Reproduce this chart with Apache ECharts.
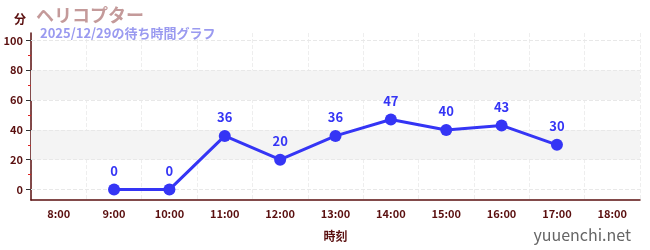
<!DOCTYPE html>
<html><head><meta charset="utf-8">
<script src="https://cdn.jsdelivr.net/npm/echarts@6/dist/echarts.min.js"></script>
<style>html,body{margin:0;padding:0;background:#fff}#c{width:650px;height:250px}</style>
</head><body><div id="c"></div>
<script>
const categories = ['8:00','9:00','10:00','11:00','12:00','13:00','14:00','15:00','16:00','17:00','18:00'];
const waitValues = [null,0,0,36,20,36,47,40,43,30,null];
const yTicks = [0,20,40,60,80,100];
const yMinorTicks = [10,30,50,70,90];
const bands = [[20,40],[60,80]];
const title = 'ヘリコプター';
const subtitle = '2025/12/29の待ち時間グラフ';

const axisColor = '#5a0f0f';
const chart = echarts.init(document.getElementById('c'));
chart.setOption({
  animation: false,
  textStyle: {fontFamily: '"Noto Sans CJK JP","Noto Sans",sans-serif'},
  title: [
    {text: title, left: 31, top: 1, textStyle: {color: '#c49a9a', fontSize: 18, fontWeight: 'bold'}},
    {text: subtitle, left: 35, top: 22, textStyle: {color: '#9a9af0', fontSize: 13, fontWeight: 'bold'}},
    {text: '分', left: 9, top: 8, textStyle: {color: axisColor, fontSize: 12, fontWeight: 'bold'}},
    {text: 'yuuenchi.net', right: 14, top: 222, textStyle: {color: '#666', fontSize: 16, fontWeight: 'normal'}}
  ],
  grid: {left: 31, right: 10, top: 33, bottom: 50},
  xAxis: {
    type: 'category', data: categories, boundaryGap: true,
    name: '時刻', nameLocation: 'middle', nameGap: 30,
    nameTextStyle: {color: axisColor, fontSize: 12, fontWeight: 'bold'},
    axisLine: {onZero: false, lineStyle: {color: axisColor, width: 1.5}},
    axisTick: {alignWithLabel: true, lineStyle: {color: '#333'}},
    axisLabel: {color: axisColor, fontSize: 11, fontWeight: 'bold', interval: 0},
    splitLine: {show: true, interval: 0, lineStyle: {color: '#eee', type: 'dashed'}}
  },
  yAxis: [{
    type: 'value', min: -7, max: 105,
    axisLine: {show: true, lineStyle: {color: axisColor, width: 1.5}},
    axisTick: {show: true, customValues: yTicks, length: 5, lineStyle: {color: '#333'}},
    axisLabel: {color: axisColor, fontSize: 11, fontWeight: 'bold', customValues: yTicks},
    splitLine: {show: false}
  }, {
    type: 'value', min: -7, max: 105, position: 'left',
    axisLine: {show: false},
    axisTick: {show: true, customValues: yMinorTicks, length: 3, lineStyle: {color: '#dd2222'}},
    axisLabel: {show: false},
    splitLine: {show: false}
  }],
  series: [
    {
      type: 'line', data: [], z: 1,
      markArea: {silent: true, itemStyle: {color: '#f4f4f4'},
        data: bands.map(b => [{yAxis: b[0]}, {yAxis: b[1]}])},
      markLine: {silent: true, symbol: 'none', label: {show: false},
        lineStyle: {color: '#e8e8e8', type: 'dashed', width: 1},
        data: yTicks.map(v => ({yAxis: v}))}
    },
    {
      type: 'line', data: waitValues, z: 5,
      itemStyle: {color: '#3535f5'},
      lineStyle: {width: 3, color: '#3535f5'},
      symbol: 'circle', symbolSize: 12,
      label: {show: true, position: 'top', color: '#3535f5', fontSize: 13, fontWeight: 'bold', distance: 6}
    }
  ]
});
</script></body></html>
